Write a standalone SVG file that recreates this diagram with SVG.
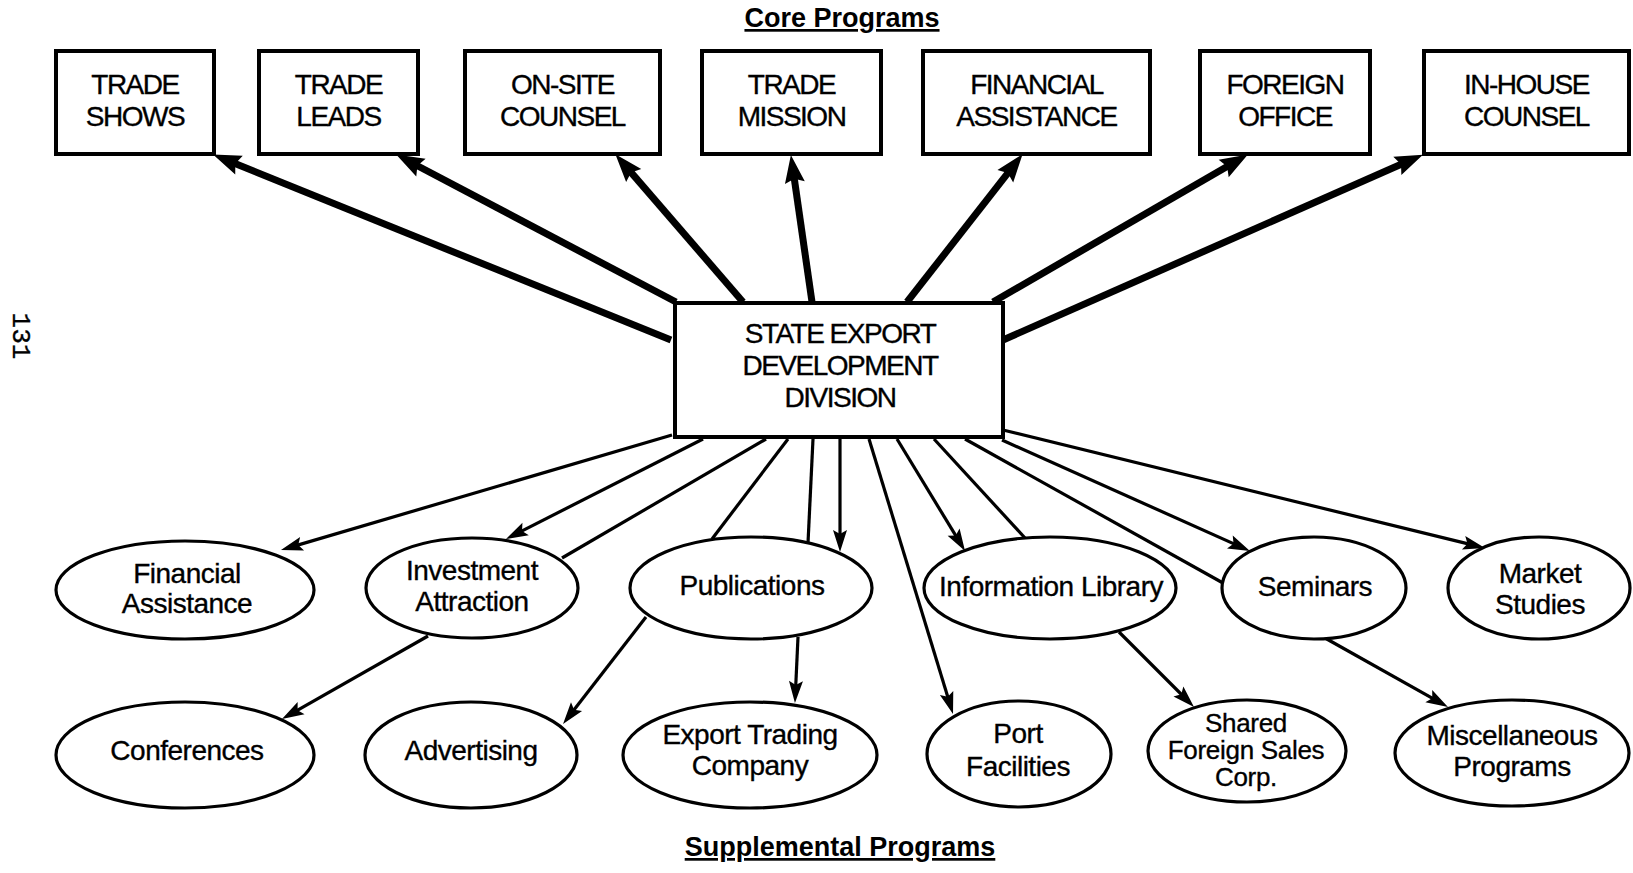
<svg xmlns="http://www.w3.org/2000/svg" width="1633" height="873" viewBox="0 0 1633 873">
<style>
text{font-family:"Liberation Sans",Arial,Helvetica,sans-serif;fill:#000;text-anchor:middle;stroke:#000;stroke-width:0.35}
.cap{font-size:28px;letter-spacing:-1.5px}
.lc{font-size:28px;letter-spacing:-0.5px}
.sm{font-size:26px;letter-spacing:-0.3px}
.title{font-size:27px;font-weight:bold;text-decoration:underline;stroke-width:0}
.pg{font-family:"Liberation Mono","Courier New",monospace;font-size:26px}
.box{fill:#fff;stroke:#000;stroke-width:4}
.ell{fill:#fff;stroke:#000;stroke-width:3.2}
.thick{stroke:#000;stroke-width:7;fill:none}
.thin{stroke:#000;stroke-width:3.2;fill:none}
.ta{marker-end:url(#ah)}
.sa{marker-end:url(#as)}
</style>
<defs>
<marker id="ah" markerUnits="userSpaceOnUse" markerWidth="28" markerHeight="20" refX="11" refY="10" orient="auto" overflow="visible">
<path d="M0,0 L28,10 L0,20 L4,10 z" fill="#000"/>
</marker>
<marker id="as" markerUnits="userSpaceOnUse" markerWidth="22" markerHeight="14" refX="10" refY="7" orient="auto" overflow="visible">
<path d="M0,0 L22,7 L0,14 L4,7 z" fill="#000"/>
</marker>
</defs>
<rect width="1633" height="873" fill="#fff"/>
<text class="title" x="842" y="27">Core Programs</text>
<text class="title" x="840" y="856">Supplemental Programs</text>
<text class="pg" transform="translate(13,336) rotate(90)">131</text>

<g id="connectors">
<line class="thick ta" x1="671" y1="340" x2="228.8" y2="161"/>
<line class="thick ta" x1="676" y1="302" x2="411.2" y2="162.5"/>
<line class="thick ta" x1="743" y1="302" x2="626.5" y2="167.1"/>
<line class="thick ta" x1="812" y1="302" x2="793.3" y2="171.8"/>
<line class="thick ta" x1="907" y1="302" x2="1012.1" y2="167.6"/>
<line class="thick ta" x1="993" y1="302" x2="1233.2" y2="163"/>
<line class="thick ta" x1="1003" y1="340" x2="1407.4" y2="161.5"/>
<line class="thin sa" x1="672" y1="435" x2="292.5" y2="546.6"/>
<line class="thin sa" x1="703" y1="439" x2="516.7" y2="533.6"/>
<line class="thin" x1="766" y1="439" x2="562" y2="558"/>
<line class="thin" x1="788" y1="439" x2="712" y2="539"/>
<line class="thin" x1="813" y1="439" x2="808" y2="543"/>
<line class="thin sa" x1="840" y1="439" x2="840" y2="540"/>
<line class="thin sa" x1="869" y1="439" x2="949.5" y2="702.5"/>
<line class="thin sa" x1="897" y1="439" x2="958.8" y2="540.7"/>
<line class="thin" x1="934" y1="439" x2="1025" y2="538"/>
<line class="thin" x1="965" y1="439" x2="1223" y2="583"/>
<line class="thin sa" x1="1002" y1="440" x2="1239" y2="546.1"/>
<line class="thin sa" x1="1003" y1="430" x2="1473.3" y2="545.1"/>
<line class="thin sa" x1="428" y1="636" x2="292.4" y2="713.1"/>
<line class="thin sa" x1="646" y1="617" x2="570.4" y2="714.5"/>
<line class="thin sa" x1="798" y1="637" x2="795.5" y2="691"/>
<line class="thin sa" x1="1119" y1="632" x2="1185.5" y2="698.5"/>
<line class="thin sa" x1="1325" y1="638" x2="1437.5" y2="701.1"/>
</g>

<g id="state"><rect class="box" x="675" y="303" width="328" height="134"/>
<text class="cap" x="840" y="343">STATE EXPORT</text><text class="cap" x="840" y="375">DEVELOPMENT</text><text class="cap" x="840" y="407">DIVISION</text></g>

<g id="trade-shows"><rect class="box" x="56" y="51" width="158" height="103"/><text class="cap" x="135" y="94">TRADE</text><text class="cap" x="135" y="126">SHOWS</text></g>
<g id="trade-leads"><rect class="box" x="259" y="51" width="159" height="103"/><text class="cap" x="338.5" y="94">TRADE</text><text class="cap" x="338.5" y="126">LEADS</text></g>
<g id="on-site"><rect class="box" x="465" y="51" width="195" height="103"/><text class="cap" x="562.5" y="94">ON-SITE</text><text class="cap" x="562.5" y="126">COUNSEL</text></g>
<g id="trade-mission"><rect class="box" x="702" y="51" width="179" height="103"/><text class="cap" x="791.5" y="94">TRADE</text><text class="cap" x="791.5" y="126">MISSION</text></g>
<g id="financial-assistance-core"><rect class="box" x="923" y="51" width="227" height="103"/><text class="cap" x="1036.5" y="94">FINANCIAL</text><text class="cap" x="1036.5" y="126">ASSISTANCE</text></g>
<g id="foreign-office"><rect class="box" x="1200" y="51" width="170" height="103"/><text class="cap" x="1285" y="94">FOREIGN</text><text class="cap" x="1285" y="126">OFFICE</text></g>
<g id="in-house"><rect class="box" x="1424" y="51" width="205" height="103"/><text class="cap" x="1526.5" y="94">IN-HOUSE</text><text class="cap" x="1526.5" y="126">COUNSEL</text></g>

<g id="financial-assistance"><ellipse class="ell" cx="185" cy="590" rx="129" ry="49"/><text class="lc" x="187" y="583">Financial</text><text class="lc" x="187" y="613">Assistance</text></g>
<g id="investment-attraction"><ellipse class="ell" cx="472" cy="588" rx="106" ry="50"/><text class="lc" x="472" y="580">Investment</text><text class="lc" x="472" y="611">Attraction</text></g>
<g id="publications"><ellipse class="ell" cx="751" cy="588" rx="121" ry="51"/><text class="lc" x="752" y="595">Publications</text></g>
<g id="information-library"><ellipse class="ell" cx="1050" cy="588" rx="126" ry="51"/><text class="lc" x="1051" y="596">Information Library</text></g>
<g id="seminars"><ellipse class="ell" cx="1314" cy="588" rx="92" ry="51"/><text class="lc" x="1315" y="596">Seminars</text></g>
<g id="market-studies"><ellipse class="ell" cx="1539" cy="588" rx="91" ry="51"/><text class="lc" x="1540" y="583">Market</text><text class="lc" x="1540" y="614">Studies</text></g>
<g id="conferences"><ellipse class="ell" cx="185" cy="755" rx="129" ry="53"/><text class="lc" x="187" y="760">Conferences</text></g>
<g id="advertising"><ellipse class="ell" cx="471" cy="755" rx="106" ry="53"/><text class="lc" x="471" y="760">Advertising</text></g>
<g id="export-trading"><ellipse class="ell" cx="750" cy="755" rx="127" ry="53"/><text class="lc" x="750" y="744">Export Trading</text><text class="lc" x="750" y="775">Company</text></g>
<g id="port-facilities"><ellipse class="ell" cx="1019" cy="754" rx="92" ry="53"/><text class="lc" x="1018" y="743">Port</text><text class="lc" x="1018" y="776">Facilities</text></g>
<g id="shared-fsc"><ellipse class="ell" cx="1247" cy="751" rx="99" ry="51"/><text class="sm" x="1246" y="732">Shared</text><text class="sm" x="1246" y="759">Foreign Sales</text><text class="sm" x="1246" y="786">Corp.</text></g>
<g id="miscellaneous"><ellipse class="ell" cx="1512" cy="753" rx="117" ry="53"/><text class="lc" x="1512" y="745">Miscellaneous</text><text class="lc" x="1512" y="776">Programs</text></g>
</svg>
